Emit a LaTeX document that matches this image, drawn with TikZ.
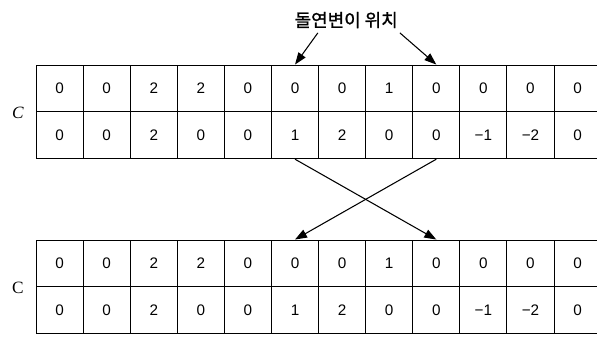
\documentclass[tikz,border=0pt]{standalone}
\usepackage{fontspec}
\setmainfont{Liberation Sans}
\newfontfamily\kfont{Noto Sans CJK KR}[FakeBold=1.2]
\newfontfamily\cfont{Liberation Serif}
\usepackage{tikz}
\usetikzlibrary{arrows.meta}
\newcommand{\cellw}{1.246cm}
\newcommand{\cellh}{1.24cm}
\newcommand{\thin}{0.7pt}
\tikzset{
  cell/.style={draw, rectangle, line width=\thin, minimum width=\cellw, minimum height=\cellh, inner sep=0pt, font=\fontsize{11.5}{13}\selectfont},
  mut/.style={-{Triangle[length=9pt,width=6.5pt]}, line width=0.8pt}
}

\begin{document}
\begin{tikzpicture}
\useasboundingbox (0,0) rectangle (15.796,-8.943);
%top table
\node[cell] (a0) at (1.576, -2.34) {0};
\node[cell] (a1) at (2.822, -2.34) {0};
\node[cell] (a2) at (4.068, -2.34) {2};
\node[cell] (a3) at (5.314, -2.34) {2};
\node[cell] (a4) at (6.560, -2.34) {0};
\node[cell] (a5) at (7.806, -2.34) {0};
\node[cell] (a6) at (9.052, -2.34) {0};
\node[cell] (a7) at (10.298, -2.34) {1};
\node[cell] (a8) at (11.544, -2.34) {0};
\node[cell] (a9) at (12.790, -2.34) {0};
\node[cell] (a10) at (14.036, -2.34) {0};
\node[cell] (a11) at (15.282, -2.34) {0};
\node[cell] (b0) at (1.576, -3.58) {0};
\node[cell] (b1) at (2.822, -3.58) {0};
\node[cell] (b2) at (4.068, -3.58) {2};
\node[cell] (b3) at (5.314, -3.58) {0};
\node[cell] (b4) at (6.560, -3.58) {0};
\node[cell] (b5) at (7.806, -3.58) {1};
\node[cell] (b6) at (9.052, -3.58) {2};
\node[cell] (b7) at (10.298, -3.58) {0};
\node[cell] (b8) at (11.544, -3.58) {0};
\node[cell] (b9) at (12.790, -3.58) {−1};
\node[cell] (b10) at (14.036, -3.58) {−2};
\node[cell] (b11) at (15.282, -3.58) {0};
\node (ctop) at (0.476, -2.99) {\cfont\itshape\fontsize{13}{15}\selectfont C};
%bottom table
\node[cell] (c0) at (1.576, -6.97) {0};
\node[cell] (c1) at (2.822, -6.97) {0};
\node[cell] (c2) at (4.068, -6.97) {2};
\node[cell] (c3) at (5.314, -6.97) {2};
\node[cell] (c4) at (6.560, -6.97) {0};
\node[cell] (c5) at (7.806, -6.97) {0};
\node[cell] (c6) at (9.052, -6.97) {0};
\node[cell] (c7) at (10.298, -6.97) {1};
\node[cell] (c8) at (11.544, -6.97) {0};
\node[cell] (c9) at (12.790, -6.97) {0};
\node[cell] (c10) at (14.036, -6.97) {0};
\node[cell] (c11) at (15.282, -6.97) {0};
\node[cell] (d0) at (1.576, -8.21) {0};
\node[cell] (d1) at (2.822, -8.21) {0};
\node[cell] (d2) at (4.068, -8.21) {2};
\node[cell] (d3) at (5.314, -8.21) {0};
\node[cell] (d4) at (6.560, -8.21) {0};
\node[cell] (d5) at (7.806, -8.21) {1};
\node[cell] (d6) at (9.052, -8.21) {2};
\node[cell] (d7) at (10.298, -8.21) {0};
\node[cell] (d8) at (11.544, -8.21) {0};
\node[cell] (d9) at (12.790, -8.21) {−1};
\node[cell] (d10) at (14.036, -8.21) {−2};
\node[cell] (d11) at (15.282, -8.21) {0};
\node (cbot) at (0.476, -7.62) {\cfont\fontsize{13}{15}\selectfont C};
%mutation points
\node (title) at (9.16, -0.53) {\kfont\fontsize{13.5}{16}\selectfont 돌연변이 위치};
\coordinate (lfrom) at (8.41, -0.87);
\coordinate (rfrom) at (10.58, -0.87);
\draw[mut] (lfrom) -- (a5.north);
\draw[mut] (rfrom) -- (a8.north);
%crossover
\draw[mut] (b5.south) -- (c8.north);
\draw[mut] (b8.south) -- (c5.north);
\end{tikzpicture}
\end{document}
